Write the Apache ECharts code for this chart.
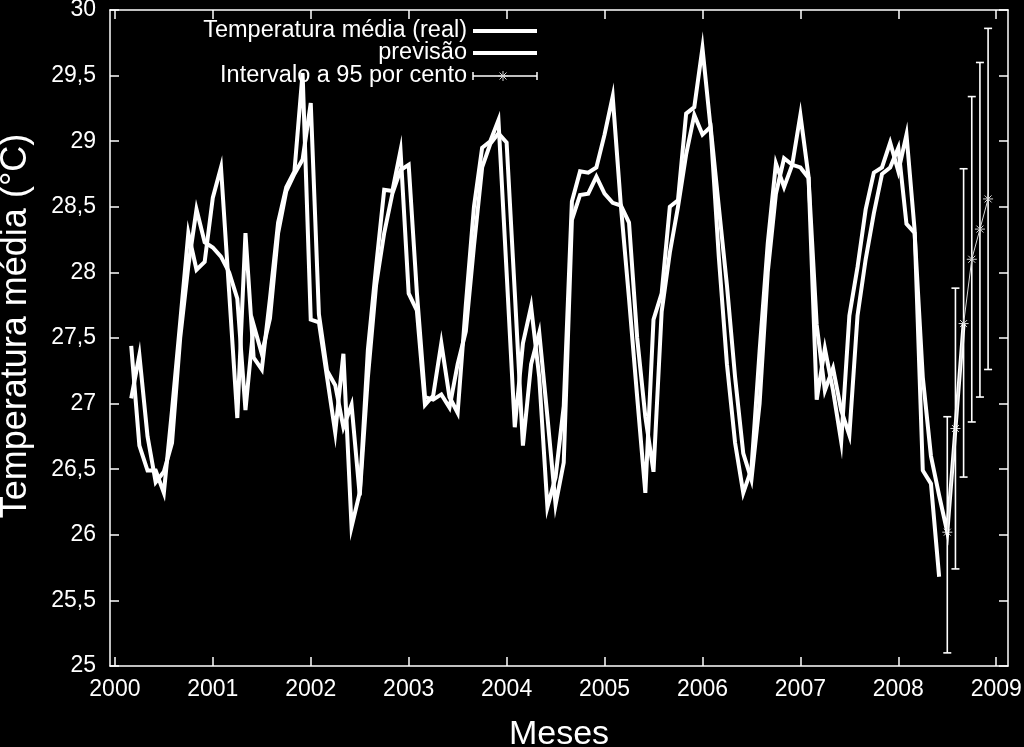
<!DOCTYPE html>
<html>
<head>
<meta charset="utf-8">
<title>Temperatura média</title>
<script src="https://cdn.jsdelivr.net/npm/echarts@6/dist/echarts.min.js"></script>
<style>
  html, body { margin: 0; padding: 0; background: #000; }
  #chart { width: 1024px; height: 747px; }
</style>
</head>
<body>
<div id="chart"></div>
<script>
// ticks do eixo x (anos)
const yearTicks = [2000, 2001, 2002, 2003, 2004, 2005, 2006, 2007, 2008, 2009]

// temperatura média observada, mensal, a partir do mês 2 (meses desde jan/2000)
const realStart = 2
const realTemp = [
  27.44, 26.68, 26.49, 26.49, 26.32, 26.95, 27.62, 28.30, 28.02, 28.08,
  28.57, 28.80, 27.85, 26.89, 28.30, 27.35, 27.26, 27.80, 28.38, 28.65,
  28.77, 29.52, 27.64, 27.62, 27.20, 26.78, 27.38, 26.06, 26.32, 27.41,
  28.04, 28.63, 28.62, 28.93, 27.84, 27.71, 26.99, 27.06, 27.46, 27.05,
  26.93, 27.75, 28.50, 28.95, 29.00, 29.16, 28.00, 26.82, 27.46, 27.74,
  27.20, 26.21, 26.44, 26.98, 28.54, 28.77, 28.76, 28.80, 29.05, 29.34,
  28.51, 27.80, 27.05, 26.32, 27.64, 27.84, 28.50, 28.55, 29.21, 29.26,
  29.71, 29.10, 28.12, 27.30, 26.70, 26.32, 26.50, 27.40, 28.22, 28.83,
  28.65, 28.82, 29.20, 28.73, 27.03, 27.42, 27.10, 26.71, 27.67, 28.04,
  28.48, 28.76, 28.80, 28.99, 28.77, 29.05, 28.32, 26.49, 26.39, 25.68
]

// previsão
const forecastStart = 2
const forecastTemp = [
  27.04, 27.37, 26.75, 26.40, 26.48, 26.70, 27.50, 28.05, 28.48, 28.23,
  28.19, 28.12, 28.00, 27.80, 26.95, 27.60, 27.38, 27.65, 28.30, 28.62,
  28.75, 28.86, 29.29, 27.68, 27.25, 27.14, 26.82, 26.99, 26.30, 27.20,
  27.90, 28.30, 28.60, 28.78, 28.82, 27.85, 27.05, 27.03, 27.07, 26.97,
  27.30, 27.55, 28.20, 28.80, 28.98, 29.06, 28.99, 27.85, 26.68, 27.30,
  27.54, 26.90, 26.23, 26.55, 28.40, 28.59, 28.60, 28.73, 28.60, 28.53,
  28.51, 28.38, 27.50, 26.90, 26.48, 27.70, 28.15, 28.50, 28.90, 29.20,
  29.05, 29.11, 28.50, 27.90, 27.20, 26.62, 26.42, 27.00, 28.00, 28.60,
  28.87, 28.82, 28.80, 28.72, 27.60, 27.10, 27.27, 26.95, 26.76, 27.67,
  28.10, 28.45, 28.75, 28.80, 28.95, 28.37, 28.30, 27.20, 26.60, 26.30,
  26.02, 26.81, 27.61
]

// intervalo a 95 por cento
const intervalStart = 102
const intervalMid = [26.02, 26.81, 27.61, 28.10, 28.33, 28.56]
const intervalLow = [25.10, 25.74, 26.44, 26.86, 27.05, 27.26]
const intervalHigh = [26.90, 27.88, 28.79, 29.34, 29.60, 29.86]

const FONT = "'Liberation Sans', Arial, sans-serif"

function monthsToPoints(start, values) {
  return values.map((v, i) => [2000 + (start + i) / 12, v])
}

const intervalData = intervalMid.map((m, i) => [
  2000 + (intervalStart + i) / 12, intervalLow[i], intervalHigh[i], m
])

function renderErrorBar(params, api) {
  const x = api.value(0)
  const lo = api.coord([x, api.value(1)])
  const hi = api.coord([x, api.value(2)])
  const mid = api.coord([x, api.value(3)])
  const cap = 4
  const s = 5
  const bar = { stroke: '#fff', lineWidth: 1.6 }
  const star = { stroke: '#d8d8d8', lineWidth: 1 }
  return {
    type: 'group',
    children: [
      { type: 'line', shape: { x1: lo[0], y1: lo[1], x2: hi[0], y2: hi[1] }, style: bar },
      { type: 'line', shape: { x1: lo[0] - cap, y1: lo[1], x2: lo[0] + cap, y2: lo[1] }, style: bar },
      { type: 'line', shape: { x1: hi[0] - cap, y1: hi[1], x2: hi[0] + cap, y2: hi[1] }, style: bar },
      { type: 'line', shape: { x1: mid[0] - s, y1: mid[1], x2: mid[0] + s, y2: mid[1] }, style: star },
      { type: 'line', shape: { x1: mid[0], y1: mid[1] - s, x2: mid[0], y2: mid[1] + s }, style: star },
      { type: 'line', shape: { x1: mid[0] - 3.5, y1: mid[1] - 3.5, x2: mid[0] + 3.5, y2: mid[1] + 3.5 }, style: star },
      { type: 'line', shape: { x1: mid[0] - 3.5, y1: mid[1] + 3.5, x2: mid[0] + 3.5, y2: mid[1] - 3.5 }, style: star }
    ]
  }
}

const axisLine = { show: true, lineStyle: { color: '#fff', width: 1.5 } }
const tickStyle = { color: '#fff', width: 1.5 }

function xAxisDef(pos, withLabels) {
  return {
    type: 'value',
    position: pos,
    min: 1999.95,
    max: 2009.12,
    axisLine: axisLine,
    splitLine: { show: false },
    axisTick: { show: true, inside: true, length: 9, lineStyle: tickStyle, customValues: yearTicks },
    axisLabel: {
      show: withLabels,
      customValues: yearTicks,
      formatter: v => String(v),
      color: '#fff',
      fontFamily: FONT,
      fontSize: 23,
      margin: 12
    },
    name: withLabels ? 'Meses' : '',
    nameLocation: 'middle',
    nameGap: 52,
    nameTextStyle: { color: '#fff', fontFamily: FONT, fontSize: 34 }
  }
}

function yAxisDef(pos, withLabels) {
  return {
    type: 'value',
    position: pos,
    min: 25,
    max: 30,
    interval: 0.5,
    axisLine: axisLine,
    splitLine: { show: false },
    axisTick: { show: true, inside: true, length: 9, lineStyle: tickStyle },
    axisLabel: {
      show: withLabels,
      color: '#fff',
      fontFamily: FONT,
      fontSize: 23,
      margin: 14,
      formatter: v => String(v).replace('.', ',')
    },
    name: withLabels ? 'Temperatura média (°C)' : '',
    nameLocation: 'middle',
    nameGap: 76,
    nameTextStyle: { color: '#fff', fontFamily: FONT, fontSize: 36, padding: [0, 0, 0, 24] }
  }
}

// legenda no estilo gnuplot: texto à esquerda, amostra à direita
const legendText = { fill: '#fff', font: '23.5px ' + FONT, align: 'right', verticalAlign: 'middle' }
const legendGraphic = [
  { type: 'text', x: 467, y: 31, style: Object.assign({ text: 'Temperatura média (real)' }, legendText) },
  { type: 'line', shape: { x1: 473, y1: 31, x2: 537, y2: 31 }, style: { stroke: '#fff', lineWidth: 4 } },
  { type: 'text', x: 467, y: 53, style: Object.assign({ text: 'previsão' }, legendText) },
  { type: 'line', shape: { x1: 473, y1: 53, x2: 537, y2: 53 }, style: { stroke: '#fff', lineWidth: 4 } },
  { type: 'text', x: 467, y: 76, style: Object.assign({ text: 'Intervalo a 95 por cento' }, legendText) },
  { type: 'line', shape: { x1: 473, y1: 76, x2: 537, y2: 76 }, style: { stroke: '#fff', lineWidth: 1.5 } },
  { type: 'line', shape: { x1: 473, y1: 72, x2: 473, y2: 80 }, style: { stroke: '#fff', lineWidth: 1.5 } },
  { type: 'line', shape: { x1: 537, y1: 72, x2: 537, y2: 80 }, style: { stroke: '#fff', lineWidth: 1.5 } },
  { type: 'line', shape: { x1: 498, y1: 76, x2: 508, y2: 76 }, style: { stroke: '#d8d8d8', lineWidth: 1 } },
  { type: 'line', shape: { x1: 503, y1: 71, x2: 503, y2: 81 }, style: { stroke: '#d8d8d8', lineWidth: 1 } },
  { type: 'line', shape: { x1: 499.5, y1: 72.5, x2: 506.5, y2: 79.5 }, style: { stroke: '#d8d8d8', lineWidth: 1 } },
  { type: 'line', shape: { x1: 499.5, y1: 79.5, x2: 506.5, y2: 72.5 }, style: { stroke: '#d8d8d8', lineWidth: 1 } }
]

const chart = echarts.init(document.getElementById('chart'))
chart.setOption({
  backgroundColor: '#000',
  animation: false,
  grid: { left: 110, right: 16, top: 10, bottom: 81, outerBoundsMode: 'none' },
  xAxis: [xAxisDef('bottom', true), xAxisDef('top', false)],
  yAxis: [yAxisDef('left', true), yAxisDef('right', false)],
  graphic: legendGraphic,
  series: [
    {
      name: 'Temperatura média (real)',
      type: 'line',
      data: monthsToPoints(realStart, realTemp),
      showSymbol: false,
      lineStyle: { color: '#fff', width: 4, join: 'miter' }
    },
    {
      name: 'previsão',
      type: 'line',
      data: monthsToPoints(forecastStart, forecastTemp),
      showSymbol: false,
      lineStyle: { color: '#fff', width: 4, join: 'miter' }
    },
    {
      name: 'Intervalo a 95 por cento',
      type: 'line',
      data: intervalData.map(d => [d[0], d[3]]),
      showSymbol: false,
      lineStyle: { color: '#d8d8d8', width: 1 }
    },
    {
      name: 'Intervalo a 95 por cento (barras)',
      type: 'custom',
      data: intervalData,
      encode: { x: 0, y: [1, 2, 3] },
      renderItem: renderErrorBar,
      z: 3
    }
  ]
})
</script>
</body>
</html>
